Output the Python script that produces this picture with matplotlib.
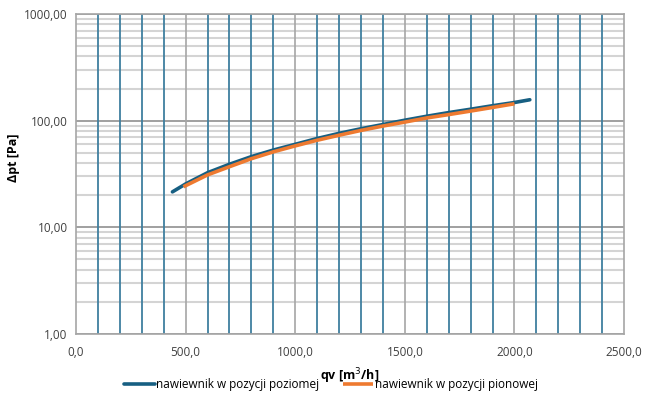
import matplotlib
matplotlib.use("Agg")
import matplotlib.pyplot as plt
from matplotlib.ticker import FixedLocator, FuncFormatter, LogLocator, NullFormatter

# data
q_horiz = [440, 500, 600, 700, 800, 900, 1000, 1100, 1200, 1300, 1400, 1500, 1600, 1700, 1800, 1900, 2000, 2070]
dp_horiz = [21.5, 25.5, 32.5, 39, 46, 53, 60, 68, 76, 84, 92, 101, 110, 119, 128, 138, 148, 157]
q_vert = [490, 600, 700, 800, 900, 1000, 1100, 1200, 1300, 1400, 1500, 1600, 1700, 1800, 1900, 2000]
dp_vert = [24.0, 31, 37, 44, 51, 58, 65.5, 73, 81, 89, 97, 106, 114, 123, 133, 144]
labels = ["nawiewnik w pozycji poziomej", "nawiewnik w pozycji pionowej"]
x_major = [0, 500, 1000, 1500, 2000, 2500]
x_minor = [v for v in range(100, 2500, 100) if v % 500]

plt.rcParams["font.family"] = ["Open Sans", "DejaVu Sans"]

fig = plt.figure(figsize=(6.59, 3.94), dpi=100)
ax = fig.add_axes([0.1153, 0.1523, 0.8317, 0.8122])

ax.plot(q_horiz, dp_horiz, color="#175f82", lw=2.6, solid_capstyle="round", label=labels[0], zorder=3)
ax.plot(q_vert, dp_vert, color="#ee7a30", lw=2.6, solid_capstyle="butt", label=labels[1], zorder=4)

ax.set_yscale("log")
ax.set_xlim(0, 2500)
ax.set_ylim(1, 1000)

ax.xaxis.set_major_locator(FixedLocator(x_major))
ax.xaxis.set_major_formatter(FuncFormatter(lambda v, p: f"{v:.1f}".replace(".", ",")))
ax.yaxis.set_major_locator(FixedLocator([1, 10, 100, 1000]))
ax.yaxis.set_minor_locator(LogLocator(base=10, subs=range(2, 10)))
ax.yaxis.set_major_formatter(FuncFormatter(lambda v, p: f"{v:.2f}".replace(".", ",")))
ax.yaxis.set_minor_formatter(NullFormatter())

# horizontal grid first, vertical lines on top of it
ax.grid(True, which="minor", axis="y", color="#d4d4d4", lw=1.5, zorder=0.5)
ax.grid(True, which="major", axis="y", color="#999999", lw=1.3, zorder=0.6)
ax.vlines(x_minor, 1, 1000, colors="#3f7f9f", lw=1.3, zorder=1)
ax.vlines(x_major[1:-1], 1, 1000, colors="#a6a6a6", lw=1.2, zorder=1)
ax.set_axisbelow(True)

for s in ax.spines.values():
    s.set_color("#a6a6a6")
    s.set_linewidth(1.2)

ax.tick_params(which="both", length=0, labelsize=8.5, colors="#404040")
ax.tick_params(axis="x", pad=9)
ax.tick_params(axis="y", pad=6)

ax.set_xlabel("qv [m$^3$/h]", fontsize=9, fontweight="bold", labelpad=5)
ax.set_ylabel("Δpt [Pa]", fontsize=9, fontweight="bold")
ax.yaxis.set_label_coords(-0.102, 0.55)

ax.legend(loc="upper center", bbox_to_anchor=(0.465, -0.105), ncol=2, frameon=False,
          fontsize=8.5, handlelength=2.6, handletextpad=0.1, columnspacing=2.0)

fig.savefig("out.png", dpi=100)
